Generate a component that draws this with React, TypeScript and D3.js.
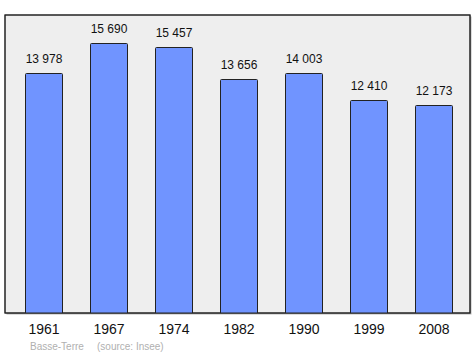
import React from "react";
import * as d3 from "d3";

const years = ["1961", "1967", "1974", "1982", "1990", "1999", "2008"];
const population = [13978, 15690, 15457, 13656, 14003, 12410, 12173];
const valueLabels = ["13 978", "15 690", "15 457", "13 656", "14 003", "12 410", "12 173"];
const placeLabel = "Basse-Terre";
const sourceLabel = "(source: Insee)";

export default function App() {
  const W = 475, H = 355;
  const frame = { x: 5, y: 15, w: 465, h: 298 };
  const x = d3.scaleBand<string>().domain(years).range([11, 466]).paddingInner(28 / 65).paddingOuter(14 / 65);
  const y = d3.scaleLinear().domain([0, 15690]).range([318, 43]);
  return (
    <svg width={W} height={H} style={{ position: "absolute", left: 0, top: 0 }} fontFamily="Liberation Sans, Arial, sans-serif">
      <rect x={0} y={0} width={W} height={H} fill="#ffffff" />
      <rect x={frame.x + 1.5} y={frame.y + 1.5} width={frame.w} height={frame.h} fill="#888" opacity={0.6} />
      <rect x={frame.x} y={frame.y} width={frame.w} height={frame.h} fill="#eeeeee" stroke="#222" strokeWidth={1} />
      <defs>
        <clipPath id="fr">
          <rect x={frame.x} y={frame.y} width={frame.w} height={frame.h} />
        </clipPath>
      </defs>
      <g clipPath="url(#fr)">
        {population.map((v, i) => (
          <rect key={i} x={(x(years[i]) ?? 0) + 0.5} y={Math.round(y(v)) + 0.5} width={x.bandwidth()} height={y(0) - y(v)} fill="#7094ff" stroke="#222" strokeWidth={1} rx={1} />
        ))}
      </g>
      <rect x={frame.x} y={frame.y} width={frame.w} height={frame.h} fill="none" stroke="#222" strokeWidth={1} />
      {population.map((v, i) => (
        <text key={i} x={(x(years[i]) ?? 0) + x.bandwidth() / 2 + 0.5} y={y(v) - 10} textAnchor="middle" fontSize={12} fill="#111">{valueLabels[i]}</text>
      ))}
      {years.map((yr, i) => (
        <text key={yr} x={(x(yr) ?? 0) + x.bandwidth() / 2 + 0.5} y={334} textAnchor="middle" fontSize={14} fill="#111">{yr}</text>
      ))}
      <text x={30} y={350} fontSize={10} fill="#b0b0b0">{placeLabel}</text>
      <text x={97} y={350} fontSize={10} fill="#b0b0b0">{sourceLabel}</text>
    </svg>
  );
}
